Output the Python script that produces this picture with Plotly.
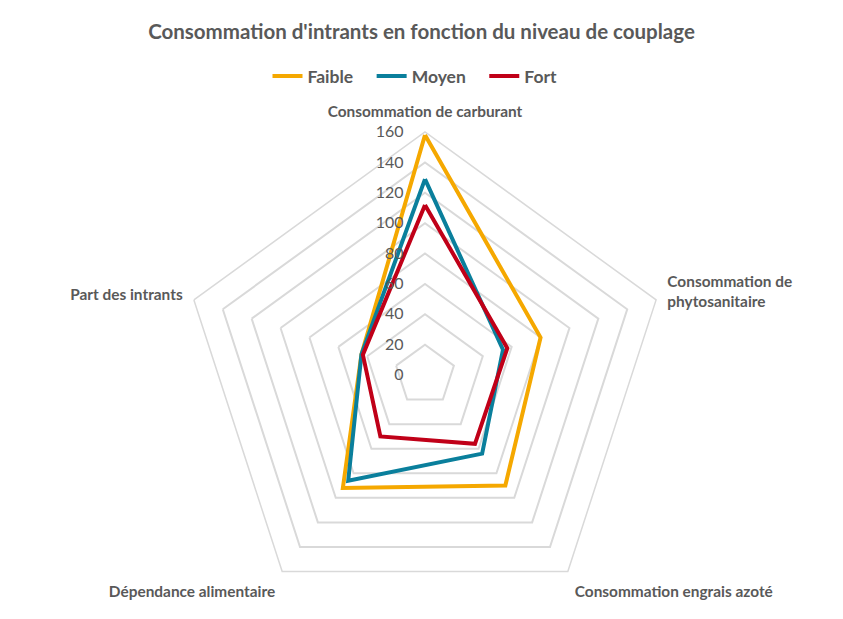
import plotly.graph_objects as go

# Axes (clockwise from the top) and values
categories = [
    "Consommation de carburant",
    "Consommation de phytosanitaire",
    "Consommation engrais azoté",
    "Dépendance alimentaire",
    "Part des intrants",
]
category_labels = [
    "<b>Consommation de carburant</b>",
    "<b>Consommation de</b><br><b>phytosanitaire</b>",
    "<b>Consommation engrais azoté</b>",
    "<b>Dépendance alimentaire</b>",
    "<b>Part des intrants</b>",
]
faible = [158, 80, 90, 92, 44]
moyen = [129, 54, 64, 86, 44]
fort = [112, 57, 56, 50, 43]

radial_ticks = [0, 20, 40, 60, 80, 100, 120, 140, 160]
radial_labels = ["0", "20", "40", "60", "80", "100", "120", "140", "160"]

series = [
    ("Faible", faible, "#F5A800"),
    ("Moyen", moyen, "#0A7F9C"),
    ("Fort", fort, "#C00018"),
]

grey_text = "#595959"
grid_grey = "#D9D9D9"

fig = go.Figure()
for name, vals, color in series:
    # close the polygon
    fig.add_trace(go.Scatterpolar(
        r=vals + vals[:1],
        theta=categories + categories[:1],
        mode="lines",
        line=dict(color=color, width=4),
        # trailing no-break spaces widen the gap between legend entries
        name="<b>" + name + "</b>" + "\u00a0" * 3,
    ))

# invisible padding after each radial label pushes the digits left of the axis
pad = '<span style="color:rgba(0,0,0,0)">00</span>'

fig.update_layout(
    width=843,
    height=619,
    margin=dict(l=0, r=0, t=0, b=0),
    paper_bgcolor="white",
    font=dict(family="Lato, Open Sans, sans-serif", color=grey_text),
    title=dict(
        text="<b>Consommation d'intrants en fonction du niveau de couplage</b>",
        x=0.5, xanchor="center",
        y=0.948, yanchor="middle",
        font=dict(size=20.5, color=grey_text),
    ),
    legend=dict(
        orientation="h",
        x=0.5, xanchor="center",
        y=0.877, yanchor="middle",
        font=dict(size=17.5, color=grey_text),
        traceorder="normal",
    ),
    polar=dict(
        domain=dict(x=[0.2159, 0.7924], y=[0.0016, 0.7868]),
        gridshape="linear",
        bgcolor="white",
        radialaxis=dict(
            range=[0, 160],
            tickmode="array",
            tickvals=radial_ticks,
            ticktext=[t + pad for t in radial_labels],
            angle=90,
            tickangle=90,
            side="counterclockwise",
            showline=False,
            ticks="",
            gridcolor=grid_grey,
            gridwidth=1.5,
            tickfont=dict(size=16, color=grey_text),
        ),
        angularaxis=dict(
            direction="clockwise",
            rotation=90,
            showgrid=False,
            showline=True,
            linecolor=grid_grey,
            linewidth=1.5,
            tickmode="array",
            tickvals=categories,
            ticktext=category_labels,
            ticks="outside",
            ticklen=8,
            tickcolor="rgba(0,0,0,0)",
            tickfont=dict(size=15.4, color=grey_text),
        ),
    ),
)

# drop the page's default body margin so the figure sits at the window origin
fig.write_html(
    "out.html",
    config={"displayModeBar": False},
    post_script="document.body.style.margin = '0';",
)
